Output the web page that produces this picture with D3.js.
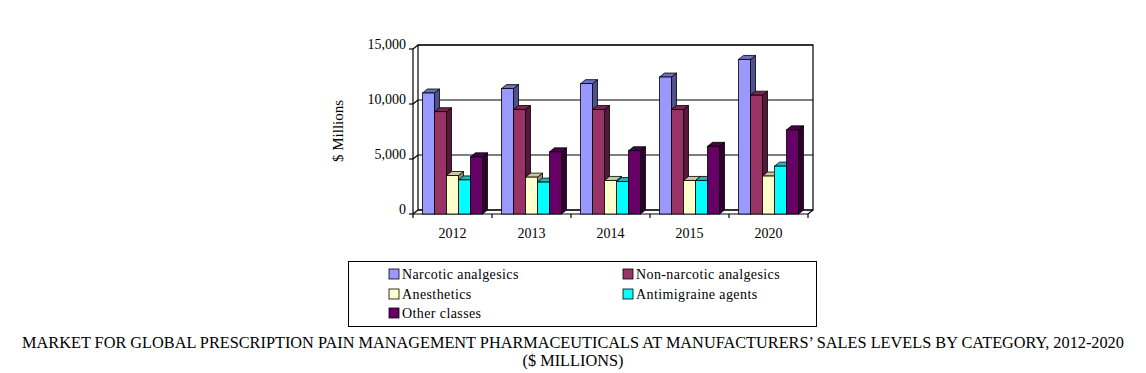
<!DOCTYPE html>
<html>
<head>
<meta charset="utf-8">
<script src="https://cdn.jsdelivr.net/npm/d3@7"></script>
<style>
  body { margin: 0; background: #fff; }
  svg text { font-family: "Liberation Serif", "Times New Roman", serif; fill: #000; }
</style>
</head>
<body>
<div id="chart"></div>
<script>
var years = ["2012", "2013", "2014", "2015", "2020"];
var seriesNames = ["Narcotic analgesics", "Non-narcotic analgesics", "Anesthetics", "Antimigraine agents", "Other classes"];
var narcotic = [11000, 11400, 11850, 12450, 14050];
var nonNarcotic = [9300, 9500, 9500, 9500, 10800];
var anesthetics = [3500, 3350, 3050, 3050, 3450];
var antimigraine = [3100, 2900, 2950, 3050, 4350];
var otherClasses = [5200, 5650, 5750, 6150, 7650];
var yTicks = [0, 5000, 10000, 15000];

var allSeries = [narcotic, nonNarcotic, anesthetics, antimigraine, otherClasses];
// front, top, side colours
var colors = [
	["#9999ff", "#6f6fc0", "#50508f"],
	["#993366", "#772650", "#55183a"],
	["#ffffcc", "#c9c9a0", "#8f8f72"],
	["#00ffff", "#20b8b8", "#008f8f"],
	["#660066", "#4a004a", "#300030"]
];

var W = 1146, H = 373;
var depthX = 5, depthY = -4;
var left = 413, right = 808, floorY = 214, topY = 49;

var svg = d3.select("#chart").append("svg")
	.attr("width", W)
	.attr("height", H)
	.attr("font-family", "Liberation Serif, Times New Roman, serif");

var y = d3.scaleLinear().domain([0, 15000]).range([floorY, topY]);
var x = d3.scaleBand().domain(years).range([left, right]).paddingInner(0).paddingOuter(0);
var barW = 12;
var inner = d3.scaleBand().domain(d3.range(5)).range([0, barW * 5]);

// back wall
var walls = svg.append("g").attr("fill", "none").attr("stroke", "#000").attr("stroke-width", 1.2);
walls.append("rect")
	.attr("x", left + depthX).attr("y", y(15000) + depthY)
	.attr("width", right - left).attr("height", floorY - topY)
	.attr("fill", "#fff");

// gridlines on back wall and side wall
yTicks.forEach(function(t) {
	walls.append("line")
		.attr("x1", left + depthX).attr("x2", right + depthX)
		.attr("y1", y(t) + depthY).attr("y2", y(t) + depthY);
	walls.append("line")
		.attr("x1", left).attr("x2", left + depthX)
		.attr("y1", y(t)).attr("y2", y(t) + depthY);
	walls.append("line")
		.attr("x1", left - 4).attr("x2", left)
		.attr("y1", y(t)).attr("y2", y(t));
});

// side wall front edge (value axis)
walls.append("line")
	.attr("x1", left).attr("x2", left)
	.attr("y1", y(15000)).attr("y2", floorY);

// floor
walls.append("path")
	.attr("d", "M" + left + "," + floorY + "L" + right + "," + floorY + "L" + (right + depthX) + "," + (floorY + depthY));

// category ticks
years.concat(["end"]).forEach(function(c, i) {
	var xx = left + i * x.bandwidth();
	walls.append("line")
		.attr("x1", xx).attr("x2", xx)
		.attr("y1", floorY).attr("y2", floorY + 4);
});

// bars
var bars = svg.append("g");
years.forEach(function(yr, ci) {
	var x0 = x(yr) + (x.bandwidth() - barW * 5) / 2;
	allSeries.forEach(function(s, si) {
		var bx = x0 + inner(si);
		var by = y(s[ci]);
		var c = colors[si];
		// side face
		bars.append("path")
			.attr("d", "M" + (bx + barW) + "," + floorY +
				"L" + (bx + barW) + "," + by +
				"L" + (bx + barW + depthX) + "," + (by + depthY) +
				"L" + (bx + barW + depthX) + "," + (floorY + depthY) + "Z")
			.attr("fill", c[2]).attr("stroke", "#000").attr("stroke-width", 0.8);
		// top face
		bars.append("path")
			.attr("d", "M" + bx + "," + by +
				"L" + (bx + depthX) + "," + (by + depthY) +
				"L" + (bx + barW + depthX) + "," + (by + depthY) +
				"L" + (bx + barW) + "," + by + "Z")
			.attr("fill", c[1]).attr("stroke", "#000").attr("stroke-width", 0.8);
		// front face
		bars.append("rect")
			.attr("x", bx).attr("y", by)
			.attr("width", barW).attr("height", floorY - by)
			.attr("fill", c[0]).attr("stroke", "#000").attr("stroke-width", 0.8);
	});
});

// y labels
svg.append("g").selectAll("text")
	.data(yTicks)
	.enter().append("text")
	.attr("x", 406)
	.attr("y", function(d) { return y(d) + depthY + 4; })
	.attr("text-anchor", "end")
	.style("font-size", "14px")
	.text(function(d) { return d3.format(",")(d); });

svg.append("text")
	.attr("transform", "translate(343,131)rotate(-90)")
	.attr("text-anchor", "middle")
	.style("font-size", "15px")
	.text("$ Millions");

// x labels
svg.append("g").selectAll("text")
	.data(years)
	.enter().append("text")
	.attr("x", function(d) { return x(d) + x.bandwidth() / 2; })
	.attr("y", 238)
	.attr("text-anchor", "middle")
	.style("font-size", "14px")
	.text(function(d) { return d; });

// legend
var legend = svg.append("g");
legend.append("rect")
	.attr("x", 348.5).attr("y", 261.5)
	.attr("width", 468).attr("height", 65)
	.attr("fill", "#fff").attr("stroke", "#000").attr("stroke-width", 1);
var legPos = [[389, 274], [623, 274], [389, 294], [623, 294], [389, 313]];
seriesNames.forEach(function(n, i) {
	var p = legPos[i];
	legend.append("rect")
		.attr("x", p[0]).attr("y", p[1] - 5)
		.attr("width", 10).attr("height", 10)
		.attr("fill", colors[i][0]).attr("stroke", "#000").attr("stroke-width", 0.8);
	legend.append("text")
		.attr("x", p[0] + 13).attr("y", p[1] + 5)
		.style("font-size", "14px")
		.style("letter-spacing", "0.4px")
		.text(n);
});

// title
svg.append("text")
	.attr("x", 573).attr("y", 348)
	.attr("text-anchor", "middle")
	.style("font-size", "16.3px")
	.text("MARKET FOR GLOBAL PRESCRIPTION PAIN MANAGEMENT PHARMACEUTICALS AT MANUFACTURERS’ SALES LEVELS BY CATEGORY, 2012-2020");
svg.append("text")
	.attr("x", 573).attr("y", 366)
	.attr("text-anchor", "middle")
	.style("font-size", "16.3px")
	.text("($ MILLIONS)");
</script>
</body>
</html>
